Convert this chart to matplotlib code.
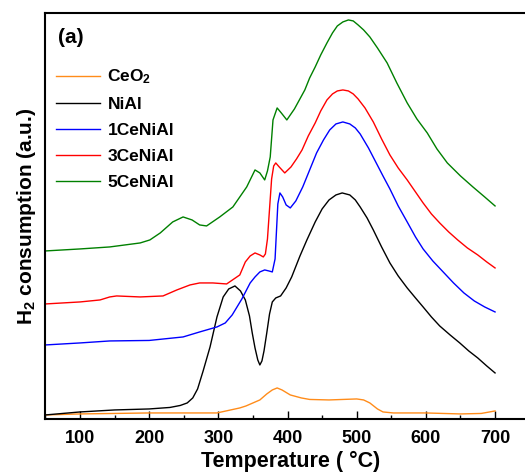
import matplotlib
matplotlib.use("Agg")
import matplotlib.pyplot as plt
from matplotlib.ticker import MultipleLocator

plt.rcParams["font.family"] = ["Liberation Sans", "DejaVu Sans"]
plt.rcParams["font.weight"] = "bold"
plt.rcParams["mathtext.default"] = "regular"

# H2-TPR profiles, temperature (°C) vs. signal (a.u., offset per sample)
t_ceo2 = [50, 100, 150, 200, 250, 298, 331, 340, 350, 360, 370, 378, 385, 392, 404,
          420, 432, 460, 480, 500, 510, 519, 530, 538, 553, 600, 650, 680, 700]
h_ceo2 = [4, 5, 5.5, 6, 6, 6, 11, 13, 16, 19, 25, 29, 31, 29, 24,
          21, 19.5, 19, 19.5, 20, 19, 16, 10, 7, 6, 6, 5, 5.5, 8]

t_nial = [50, 100, 150, 200, 230, 245, 255, 263, 270, 278, 288, 298, 307, 315, 324,
          332, 339, 345, 349, 353, 357, 360, 363, 366, 370, 374, 378, 383, 390, 398,
          406, 418, 428, 440, 450, 460, 470, 479, 490, 498, 505, 515, 524, 536, 548,
          560, 573, 585, 596, 608, 620, 635, 649, 662, 675, 688, 700]
h_nial = [4, 7, 9, 10, 11.5, 13.5, 16, 21, 30, 48, 72, 102, 122, 130, 133,
          128, 119, 103, 86, 71, 59, 54, 58, 68, 86, 105, 117, 121, 123, 131,
          142, 163, 179, 197, 210, 219, 224, 226, 224, 219, 212, 201, 189, 172, 156,
          143, 131, 121, 112, 102, 93, 84, 76, 68, 61, 53, 46]

t_1ce = [50, 100, 143, 200, 249, 273, 298, 310, 320, 334, 346, 353, 360, 367, 373,
         378, 382, 386, 389, 393, 398, 404, 412, 422, 432, 442, 452, 461, 470, 480,
         490, 498, 505, 517, 529, 538, 548, 560, 573, 585, 596, 610, 625, 640, 655,
         670, 685, 700]
h_1ce = [74, 76, 78, 78.5, 82, 87, 92, 96, 104, 120, 136, 142, 147, 149, 148,
         147, 160, 215, 226, 222, 214, 211, 218, 232, 249, 266, 279, 289, 295, 297,
         295, 291, 285, 271, 255, 243, 230, 213, 197, 182, 170, 158, 147, 136, 126,
         118, 112, 107]

t_3ce = [50, 100, 129, 143, 153, 187, 220, 240, 259, 273, 292, 312, 331, 339, 346,
         353, 360, 365, 368, 371, 374, 377, 380, 383, 388, 396, 405, 413, 421, 430,
         440, 448, 457, 465, 472, 480, 488, 495, 502, 512, 524, 536, 548, 560, 573,
         585, 596, 608, 620, 633, 646, 660, 675, 688, 700]
h_3ce = [115, 117, 119, 122, 123, 122, 123, 129, 134, 136, 136, 135, 144, 157, 163,
         166, 164, 162, 165, 180, 210, 240, 253, 256, 252, 246, 252, 260, 269, 283,
         296, 308, 319, 325, 328, 329, 328, 325, 320, 311, 297, 280, 264, 251, 239,
         227, 216, 205, 196, 187, 179, 171, 164, 157, 151]

t_5ce = [50, 100, 143, 187, 201, 216, 234, 249, 262, 273, 283, 302, 321, 341, 353,
         360, 367, 371, 375, 379, 385, 391, 399, 410, 425, 432, 440, 448, 457, 465,
         472, 480, 488, 495, 502, 510, 519, 530, 544, 558, 573, 587, 602, 616, 631,
         650, 668, 685, 700]
h_5ce = [168, 170, 172, 176, 179, 186, 197, 202, 199, 194, 193, 202, 212, 232, 249,
         246, 239, 248, 262, 299, 311, 306, 299, 310, 329, 341, 352, 364, 376, 386,
         393, 397, 399, 398, 394, 389, 382, 371, 356, 336, 316, 300, 286, 270, 256,
         243, 232, 222, 213]

series = [
    (t_ceo2, h_ceo2, "CeO$_2$", "#FF8C1A"),
    (t_nial, h_nial, "NiAl", "#000000"),
    (t_1ce, h_1ce, "1CeNiAl", "#0000FF"),
    (t_3ce, h_3ce, "3CeNiAl", "#FF0000"),
    (t_5ce, h_5ce, "5CeNiAl", "#008000"),
]

fig = plt.figure(figsize=(5.25, 4.75), dpi=100)
ax = fig.add_axes([0.0865, 0.118, 0.9355, 0.8537])

for t, h, lab, col in series:
    ax.plot(t, h, color=col, linewidth=1.0, label=lab)

ax.set_xlim(50, 760)
ax.set_ylim(0, 405.5)

ax.xaxis.set_minor_locator(MultipleLocator(50))
ax.set_xticks([100, 200, 300, 400, 500, 600, 700])
ax.set_yticks([])
ax.tick_params(axis="x", which="major", direction="in", length=5.5, width=1.0,
               labelsize=13, pad=8)
ax.tick_params(axis="x", which="minor", direction="in", length=3, width=1.0)
for lbl in ax.get_xticklabels():
    lbl.set_fontweight("bold")

for side in ["left", "bottom", "top", "right"]:
    ax.spines[side].set_linewidth(1.5)

ax.set_xlabel("Temperature ( \u00b0C)", fontsize=15.5, fontweight="bold", labelpad=3)
ax.set_ylabel("H$_2$ consumption (a.u.)", fontsize=15, fontweight="bold", labelpad=5)

ax.text(0.026, 0.94, "(a)", transform=ax.transAxes, fontsize=15,
        fontweight="bold", va="center", ha="left")

leg = ax.legend(loc="upper left", bbox_to_anchor=(0.022, 0.866), frameon=False,
                fontsize=12.5, handlelength=2.5, handletextpad=0.45,
                labelspacing=0.62, borderpad=0, borderaxespad=0)
for txt in leg.get_texts():
    txt.set_fontweight("bold")

fig.savefig("out.png", dpi=100)
